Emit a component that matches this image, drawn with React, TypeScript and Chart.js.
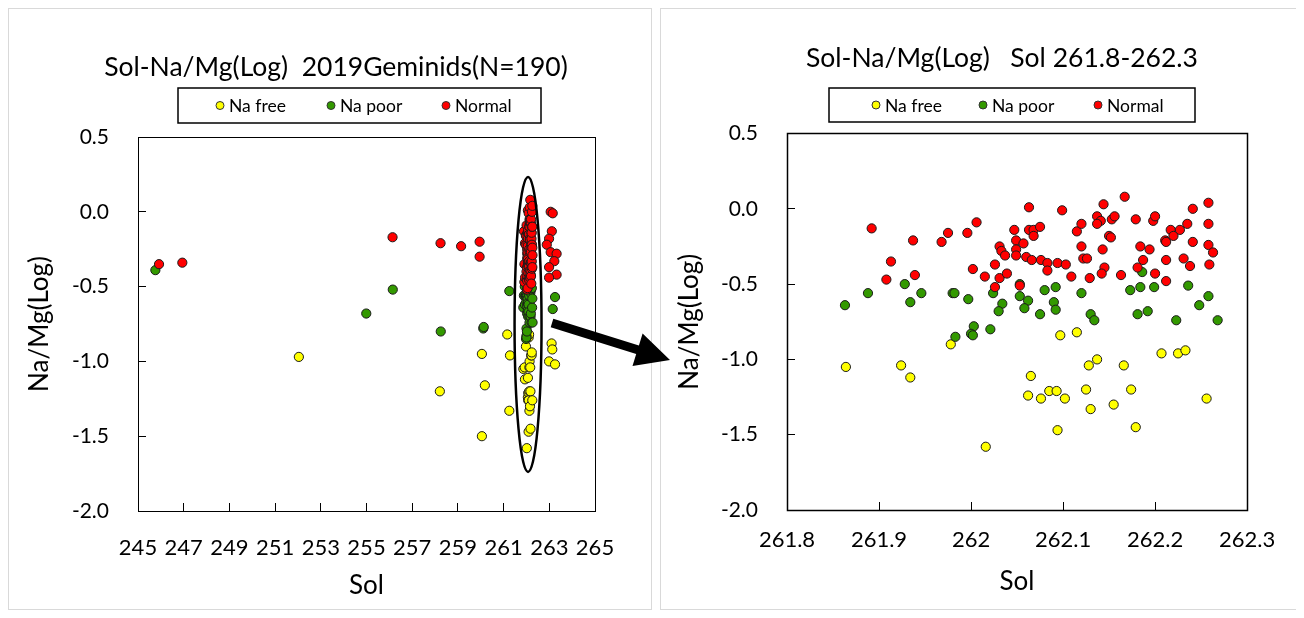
import React, { useEffect, useRef } from "react";
import { Chart, registerables } from "chart.js";

Chart.register(...registerables);

// ---------- DATA ----------
// Cluster Sol 261.8-262.3 (shown in both panels)
const clusterNormalSol = [
  261.892, 261.937, 261.913, 261.908, 261.939, 261.968, 261.975, 261.996, 262.006, 262.002,
  262.015, 262.026, 262.031, 262.033, 262.037, 262.031, 262.039, 262.026, 262.047, 262.049,
  262.049, 262.049, 262.057, 262.060, 262.066, 262.063, 262.063, 262.068, 262.068, 262.075,
  262.076, 262.083, 262.083, 262.053, 262.094, 262.103, 262.099, 262.109, 262.115, 262.120,
  262.120, 262.122, 262.126, 262.129, 262.137, 262.141, 262.137, 262.144, 262.143, 262.145,
  262.142, 262.153, 262.156, 262.150, 262.152, 262.167, 262.163, 262.179, 262.184, 262.187,
  262.181, 262.194, 262.198, 262.200, 262.200, 262.212, 262.212, 262.211, 262.212, 262.217,
  262.220, 262.227, 262.235, 262.241, 262.241, 262.231, 262.238, 262.258, 262.258, 262.258,
  262.263, 262.259,
];
const clusterNormalVal = [
  -0.13, -0.21, -0.35, -0.47, -0.44, -0.22, -0.16, -0.16, -0.09, -0.40,
  -0.45, -0.37, -0.25, -0.28, -0.31, -0.46, -0.43, -0.52, -0.14, -0.21,
  -0.27, -0.31, -0.23, -0.32, -0.34, 0.01, -0.14, -0.14, -0.18, -0.12,
  -0.34, -0.36, -0.41, -0.51, -0.36, -0.37, -0.01, -0.45, -0.15, -0.10,
  -0.25, -0.33, -0.33, -0.46, -0.05, -0.08, -0.10, 0.03, -0.27, -0.39,
  -0.43, -0.07, -0.05, -0.18, -0.19, 0.08, -0.44, -0.07, -0.25, -0.34,
  -0.39, -0.27, -0.08, -0.05, -0.43, -0.34, -0.48, -0.21, -0.22, -0.14,
  -0.18, -0.14, -0.10, 0.0, -0.22, -0.33, -0.38, 0.04, -0.10, -0.24,
  -0.29, -0.37,
];
const clusterPoorSol = [
  261.863, 261.888, 261.928, 261.934, 261.946, 261.980, 261.982, 261.997, 261.983, 262.003,
  262.000, 262.002, 262.021, 262.024, 262.034, 262.030, 262.053, 262.053, 262.062, 262.058,
  262.075, 262.080, 262.092, 262.090, 262.092, 262.120, 262.130, 262.134, 262.173, 262.186,
  262.184, 262.199, 262.181, 262.192, 262.223, 262.236, 262.248, 262.258, 262.268,
];
const clusterPoorVal = [
  -0.64, -0.56, -0.50, -0.62, -0.56, -0.56, -0.56, -0.60, -0.85, -0.78,
  -0.83, -0.84, -0.80, -0.56, -0.63, -0.68, -0.50, -0.58, -0.61, -0.66,
  -0.70, -0.54, -0.52, -0.62, -0.67, -0.56, -0.70, -0.74, -0.54, -0.42,
  -0.52, -0.52, -0.70, -0.68, -0.74, -0.51, -0.64, -0.58, -0.74,
];
const clusterFreeSol = [
  261.864, 261.924, 261.934, 261.978, 262.016, 262.065, 262.062, 262.076, 262.085, 262.093,
  262.102, 262.094, 262.097, 262.115, 262.125, 262.130, 262.128, 262.137, 262.155, 262.166,
  262.174, 262.179, 262.207, 262.225, 262.233, 262.256,
];
const clusterFreeVal = [
  -1.05, -1.04, -1.12, -0.90, -1.58, -1.11, -1.24, -1.26, -1.21, -1.21,
  -1.26, -1.47, -0.84, -0.82, -1.20, -1.33, -1.04, -1.00, -1.30, -1.04,
  -1.20, -1.45, -0.96, -0.96, -0.94, -1.26,
];

// Points outside the cluster (left panel only)
const otherNormalSol = [245.92, 246.94, 256.14, 258.24, 259.14, 259.95, 259.95, 263.06, 263.15, 263.11, 262.99, 262.89, 263.06, 263.32, 263.22, 262.99, 263.32, 262.99];
const otherNormalVal = [-0.35, -0.34, -0.17, -0.21, -0.23, -0.2, -0.3, 0.0, -0.01, -0.13, -0.18, -0.22, -0.27, -0.28, -0.33, -0.37, -0.42, -0.44];
const otherPoorSol = [245.76, 254.99, 256.15, 258.25, 260.11, 260.13, 261.25, 263.25, 263.15];
const otherPoorVal = [-0.39, -0.68, -0.52, -0.8, -0.78, -0.77, -0.53, -0.57, -0.65];
const otherFreeSol = [252.04, 258.21, 260.05, 260.18, 260.05, 261.16, 261.28, 261.25, 263.1, 263.13, 262.99, 263.25];
const otherFreeVal = [-0.97, -1.2, -0.95, -1.16, -1.5, -0.82, -0.96, -1.33, -0.88, -0.92, -1.0, -1.02];

const seriesLabels = ["Na free", "Na poor", "Normal"];
const seriesColors = ["#FFFF00", "#339900", "#FF0000"];

const leftTitle = "Sol-Na/Mg(Log)  2019Geminids(N=190)";
const rightTitle = "Sol-Na/Mg(Log)   Sol 261.8-262.3";
const xTitle = "Sol";
const yTitle = "Na/Mg(Log)";

// Ellipse annotation (data units, left panel)
const ellipseCenter = { sol: 262.07, val: -0.753 };
const ellipseHalf = { sol: 0.59, val: 0.986 };

const FONT = "Lato";

function toPoints(sols: number[], vals: number[]) {
  return sols.map((s, i) => ({ x: s, y: vals[i] }));
}

function makeDatasets(free: any[], poor: any[], normal: any[]) {
  const sets = [free, poor, normal];
  return sets.map((d, i) => ({
    label: seriesLabels[i],
    data: d,
    backgroundColor: seriesColors[i],
    borderColor: "#1a1a1a",
    borderWidth: 1,
    pointRadius: 4.6,
    pointHoverRadius: 4.6,
    order: 3 - i,
  }));
}

type PanelCfg = {
  title: string;
  titleFont: number;
  titlePad: { top: number; bottom: number };
  titleDx: number;
  padding: { left: number; right: number; top: number; bottom: number };
  xHeight: number;
  yWidth: number;
  xMin: number;
  xMax: number;
  xStep: number;
  xTickPad: number;
  frameWidth: number;
  legendBox: { x: number; y: number; w: number; h: number };
  legendDots: number[];
  legendY: number;
  ellipse: boolean;
};

function buildChart(canvas: HTMLCanvasElement, cfg: PanelCfg, datasets: any[]) {
  const shiftTitle = {
    id: "shiftTitle",
    afterLayout(chart: any) {
      const t = chart.titleBlock;
      if (t) {
        t.left += cfg.titleDx;
        t.right += cfg.titleDx;
      }
    },
  };
  const frame = {
    id: "frame",
    afterDatasetsDraw(chart: any) {
      const { ctx, chartArea: a } = chart;
      ctx.save();
      ctx.strokeStyle = "#000";
      ctx.lineWidth = cfg.frameWidth;
      const l = Math.round(a.left) + 0.5;
      const t = Math.round(a.top) + 0.5;
      const r = Math.round(a.right) + 0.5;
      const b = Math.round(a.bottom) + 0.5;
      ctx.strokeRect(l, t, r - l, b - t);
      ctx.restore();
    },
  };
  const ellipse = {
    id: "ellipse",
    afterDatasetsDraw(chart: any) {
      if (!cfg.ellipse) return;
      const { ctx } = chart;
      const xs = chart.scales.x;
      const ys = chart.scales.y;
      const cx = xs.getPixelForValue(ellipseCenter.sol);
      const cy = ys.getPixelForValue(ellipseCenter.val);
      const rx = Math.abs(xs.getPixelForValue(ellipseCenter.sol + ellipseHalf.sol) - cx);
      const ry = Math.abs(ys.getPixelForValue(ellipseCenter.val + ellipseHalf.val) - cy);
      ctx.save();
      ctx.beginPath();
      ctx.ellipse(cx, cy, rx, ry, 0, 0, Math.PI * 2);
      ctx.strokeStyle = "#000";
      ctx.lineWidth = 2.5;
      ctx.stroke();
      ctx.restore();
    },
  };
  const boxLegend = {
    id: "boxLegend",
    afterDraw(chart: any) {
      const { ctx } = chart;
      const bx = cfg.legendBox;
      ctx.save();
      ctx.strokeStyle = "#000";
      ctx.lineWidth = 1.5;
      ctx.strokeRect(bx.x, bx.y, bx.w, bx.h);
      ctx.font = `17.5px ${FONT}`;
      ctx.textAlign = "left";
      ctx.textBaseline = "middle";
      chart.data.datasets.forEach((ds: any, i: number) => {
        const x = cfg.legendDots[i];
        const y = cfg.legendY;
        ctx.beginPath();
        ctx.arc(x, y, 4, 0, Math.PI * 2);
        ctx.fillStyle = ds.backgroundColor;
        ctx.fill();
        ctx.lineWidth = 1;
        ctx.strokeStyle = "#333";
        ctx.stroke();
        ctx.fillStyle = "#000";
        ctx.fillText(ds.label, x + 9, y + 1);
      });
      ctx.restore();
    },
  };

  const fmtX = (v: any) => String(Math.round(Number(v) * 10) / 10);
  const fmtY = (v: any) => Number(v).toFixed(1);

  return new Chart(canvas, {
    type: "scatter",
    data: { datasets },
    options: {
      responsive: false,
      animation: false,
      devicePixelRatio: 1,
      events: [],
      layout: { padding: cfg.padding },
      plugins: {
        legend: { display: false },
        tooltip: { enabled: false },
        title: {
          display: true,
          text: cfg.title,
          color: "#000",
          font: { family: FONT, size: cfg.titleFont, weight: "normal" },
          padding: cfg.titlePad,
        },
      },
      scales: {
        x: {
          type: "linear",
          min: cfg.xMin,
          max: cfg.xMax,
          afterFit: (s: any) => {
            s.height = cfg.xHeight;
          },
          ticks: {
            stepSize: cfg.xStep,
            autoSkip: false,
            maxRotation: 0,
            minRotation: 0,
            padding: cfg.xTickPad,
            color: "#000",
            font: { family: FONT, size: 22 },
            callback: fmtX,
          },
          grid: { drawOnChartArea: false, drawTicks: true, tickLength: -8, tickColor: "#000", tickWidth: 1 },
          border: { display: false },
          title: {
            display: true,
            text: xTitle,
            color: "#000",
            font: { family: FONT, size: 26 },
            padding: 0,
          },
        },
        y: {
          type: "linear",
          min: -2,
          max: 0.5,
          afterFit: (s: any) => {
            s.width = cfg.yWidth;
          },
          ticks: {
            stepSize: 0.5,
            padding: 37,
            color: "#000",
            font: { family: FONT, size: 21 },
            callback: fmtY,
          },
          grid: { drawOnChartArea: false, drawTicks: true, tickLength: -8, tickColor: "#000", tickWidth: 1 },
          border: { display: false },
          title: {
            display: true,
            text: yTitle,
            color: "#000",
            font: { family: FONT, size: 26 },
            padding: 0,
          },
        },
      },
    } as any,
    plugins: [shiftTitle, frame, ellipse, boxLegend],
  });
}

const leftCfg: PanelCfg = {
  title: leftTitle,
  titleFont: 26.5,
  titlePad: { top: 43.1, bottom: 54.1 },
  titleDx: 26.5,
  padding: { left: 16, right: 57, top: 0, bottom: 9 },
  xHeight: 90,
  yWidth: 114,
  xMin: 245,
  xMax: 265,
  xStep: 2,
  xTickPad: 31.8,
  frameWidth: 1,
  legendBox: { x: 170, y: 80, w: 363, h: 35 },
  legendDots: [212, 323, 438],
  legendY: 97.5,
  ellipse: true,
};

const rightCfg: PanelCfg = {
  title: rightTitle,
  titleFont: 26.5,
  titlePad: { top: 34.4, bottom: 59.3 },
  titleDx: 33,
  padding: { left: 14, right: 36, top: 0, bottom: 13 },
  xHeight: 87,
  yWidth: 113,
  xMin: 261.8,
  xMax: 262.3,
  xStep: 0.1,
  xTickPad: 24.8,
  frameWidth: 1.5,
  legendBox: { x: 169, y: 80, w: 366, h: 34 },
  legendDots: [216, 323, 438],
  legendY: 97,
  ellipse: false,
};

function arrowPolygon(sx: number, sy: number, tx: number, ty: number, shaft: number, headLen: number, headW: number) {
  const dx = tx - sx;
  const dy = ty - sy;
  const len = Math.hypot(dx, dy);
  const ux = dx / len;
  const uy = dy / len;
  const nx = -uy;
  const ny = ux;
  const bx = tx - ux * headLen;
  const by = ty - uy * headLen;
  const hs = shaft / 2;
  const hh = headW / 2;
  const pts = [
    [sx - nx * hs, sy - ny * hs],
    [bx - nx * hs, by - ny * hs],
    [bx - nx * hh, by - ny * hh],
    [tx, ty],
    [bx + nx * hh, by + ny * hh],
    [bx + nx * hs, by + ny * hs],
    [sx + nx * hs, sy + ny * hs],
  ];
  return pts.map((p) => p[0].toFixed(1) + "," + p[1].toFixed(1)).join(" ");
}

export default function App() {
  const leftRef = useRef<HTMLCanvasElement | null>(null);
  const rightRef = useRef<HTMLCanvasElement | null>(null);

  useEffect(() => {
    Chart.defaults.font.family = FONT;
    const leftSets = makeDatasets(
      toPoints(clusterFreeSol.concat(otherFreeSol), clusterFreeVal.concat(otherFreeVal)),
      toPoints(clusterPoorSol.concat(otherPoorSol), clusterPoorVal.concat(otherPoorVal)),
      toPoints(clusterNormalSol.concat(otherNormalSol), clusterNormalVal.concat(otherNormalVal))
    );
    const rightSets = makeDatasets(
      toPoints(clusterFreeSol, clusterFreeVal),
      toPoints(clusterPoorSol, clusterPoorVal),
      toPoints(clusterNormalSol, clusterNormalVal)
    );
    const c1 = leftRef.current ? buildChart(leftRef.current, leftCfg, leftSets) : null;
    const c2 = rightRef.current ? buildChart(rightRef.current, rightCfg, rightSets) : null;
    return () => {
      if (c1) c1.destroy();
      if (c2) c2.destroy();
    };
  }, []);

  const panelBorder: React.CSSProperties = {
    position: "absolute",
    top: 0,
    height: 602,
    border: "1px solid #d9d9d9",
    boxSizing: "border-box",
  };

  return (
    <div style={{ position: "relative", width: 1292, height: 602, fontFamily: FONT }}>
      <div style={{ ...panelBorder, left: 0, width: 644 }} />
      <div style={{ ...panelBorder, left: 652, width: 640 }} />
      <canvas ref={leftRef} width={644} height={602} style={{ position: "absolute", left: 0, top: 0, width: 644, height: 602 }} />
      <canvas ref={rightRef} width={640} height={602} style={{ position: "absolute", left: 652, top: 0, width: 640, height: 602 }} />
      <svg width={1292} height={602} style={{ position: "absolute", left: 0, top: 0, pointerEvents: "none" }}>
        <polygon points={arrowPolygon(544, 315, 662, 352, 9, 34, 34)} fill="#000" />
      </svg>
    </div>
  );
}
